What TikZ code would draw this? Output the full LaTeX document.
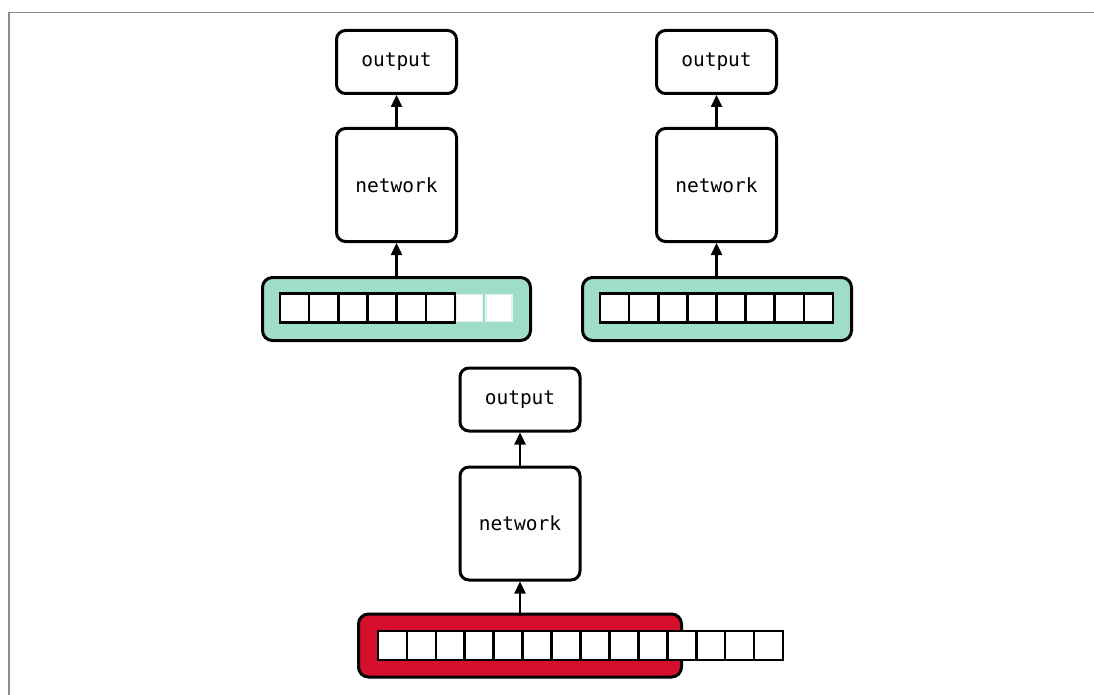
\documentclass[tikz,border=0pt]{standalone}
\usepackage{fontspec}
\newfontfamily\codefont{DejaVu Sans Mono}
\usetikzlibrary{arrows.meta}
\definecolor{seqgreen}{RGB}{160,221,200}
\definecolor{seqred}{RGB}{214,16,44}
\definecolor{framegray}{RGB}{140,140,140}
\definecolor{padedge}{RGB}{228,242,237}
\tikzset{
  blk/.style={draw, line width=3pt, rounded corners=9pt, fill=white,
    minimum width=120pt, inner sep=0pt, font=\codefont\fontsize{19.5}{22}\selectfont},
  outbox/.style={blk, minimum height=63pt},
  netbox/.style={blk, minimum height=113pt},
  seqbar/.style={draw, line width=3pt, rounded corners=10pt, minimum height=63pt, inner sep=0pt},
  cell/.style={draw, line width=2.6pt, fill=white, inner sep=0pt, minimum height=29pt},
  padcell/.style={draw=padedge, line width=1.5pt, fill=white, inner sep=0pt, minimum height=27pt, minimum width=26pt},
  arr/.style={line width=2.4pt, -{Triangle[width=11pt,length=12pt]}}
}
\begin{document}
\begin{tikzpicture}[x=1pt,y=-1pt]
\useasboundingbox (0,0) rectangle (1094,695);
\fill[white] (0,0) rectangle (1094,695);
% frame edges
\draw[framegray, line width=1.4pt] (9,695) -- (9,12.5) -- (1094,12.5);

% ---- left: short sequence with padding ----
\node[outbox] (outA) at (396.5,62) {output};
\node[netbox] (netA) at (396.5,185) {network};
\node[seqbar, fill=seqgreen, minimum width=268pt] (barA) at (396.5,309) {};
\foreach \i in {1,...,6} {
  \node[cell, minimum width=29.2pt] (a\i) at ({280+29.17*(\i-0.5)},308) {};
}
\node[padcell] (a7) at ({280+29.17*6.5},308) {};
\node[padcell] (a8) at ({280+29.17*7.5},308) {};
\draw[arr] (barA.north) -- (netA.south);
\draw[arr] (netA.north) -- (outA.south);

% ---- right: sequence of full length ----
\node[outbox] (outB) at (716.5,62) {output};
\node[netbox] (netB) at (716.5,185) {network};
\node[seqbar, fill=seqgreen, minimum width=269pt] (barB) at (717,309) {};
\foreach \i in {1,...,8} {
  \node[cell, minimum width=29.2pt] (b\i) at ({600+29.125*(\i-0.5)},308) {};
}
\draw[arr] (barB.north -| netB.south) -- (netB.south);
\draw[arr] (netB.north) -- (outB.south);

% ---- bottom: sequence longer than the window ----
\node[outbox] (outC) at (520,399.5) {output};
\node[netbox] (netC) at (520,523.5) {network};
\node[seqbar, fill=seqred, minimum width=323pt] (barC) at (520,645.5) {};
\foreach \i in {1,...,14} {
  \node[cell, minimum width=29pt] (c\i) at ({378+28.93*(\i-0.5)},645.5) {};
}
\draw[arr] (barC.north) -- (netC.south);
\draw[arr] (netC.north) -- (outC.south);
\end{tikzpicture}
\end{document}
